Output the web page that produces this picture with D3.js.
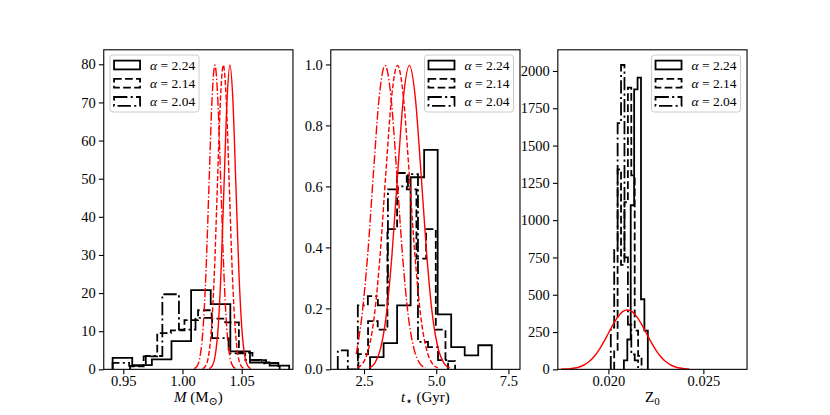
<!DOCTYPE html>
<html>
<head>
<meta charset="utf-8">
<script src="https://cdn.jsdelivr.net/npm/d3@7"></script>
<style>
  body { margin: 0; background: #fff; }
  text { font-family: "Liberation Serif", "DejaVu Serif", serif; }
</style>
</head>
<body>
<div id="chart"></div>
<script>
// ---- data ----
const alphaValues = ["2.24", "2.14", "2.04"];

// panel 1: mass
const massTicks = [0.95, 1.00, 1.05];
const massYTicks = [0, 10, 20, 30, 40, 50, 60, 70, 80];
const massBinStart = [0.9410, 0.9557, 0.9410];
const massBinWidth = [0.01657, 0.01149, 0.0140];
const massHist224 = [3.0, 1.1, 2.6, 7.4, 20.8, 17.1, 4.7, 1.8, 1.0];
const massHist214 = [0.8, 3.4, 9.5, 10.2, 12.9, 15.5, 13.3, 12.3, 4.3, 2.4, 1.7];
const massHist204 = [1.7, 0.9, 3.5, 19.7, 10.4, 13.5, 8.2, 4.2, 2.5, 1.6];
const massCurveX224 = [1.0226, 1.0251, 1.0276, 1.0301, 1.0326, 1.0351, 1.0376, 1.0401, 1.0426, 1.0451, 1.0476, 1.0501, 1.0526, 1.0551, 1.0576];
const massCurveX214 = [1.0170, 1.0195, 1.0220, 1.0245, 1.0270, 1.0295, 1.0320, 1.0345, 1.0370, 1.0395, 1.0420, 1.0445, 1.0470, 1.0495, 1.0520];
const massCurveX204 = [1.0099, 1.0124, 1.0149, 1.0174, 1.0199, 1.0224, 1.0249, 1.0274, 1.0299, 1.0324, 1.0349, 1.0374, 1.0399, 1.0424, 1.0449];
const massCurveY = [0.2, 0.9, 3.5, 10.8, 25.9, 48.4, 70.4, 79.8, 70.4, 48.4, 25.9, 10.8, 3.5, 0.9, 0.2];

// panel 2: age
const ageTicks = [2.5, 5.0, 7.5];
const ageYTicks = [0.0, 0.2, 0.4, 0.6, 0.8, 1.0];
const ageBinStart = [2.710, 2.305, 1.592];
const ageBinWidth = [0.468, 0.335, 0.347];
const ageHist224 = [0.04, 0.086, 0.21, 0.63, 0.72, 0.18, 0.073, 0.046, 0.079];
const ageHist214 = [0.05, 0.158, 0.13, 0.46, 0.644, 0.59, 0.363, 0.46, 0.13, 0.027];
const ageHist204 = [0.062, 0, 0.21, 0.24, 0.21, 0.59, 0.60, 0.64, 0.09, 0.073, 0.03];
const ageCurveX224 = [2.67, 2.87, 3.07, 3.27, 3.47, 3.67, 3.87, 4.07, 4.27, 4.47, 4.67, 4.87, 5.07, 5.27, 5.47];
const ageCurveY224 = [0.005, 0.020, 0.067, 0.177, 0.378, 0.649, 0.897, 0.997, 0.897, 0.649, 0.378, 0.177, 0.067, 0.020, 0.005];
const ageCurveX214 = [2.26, 2.46, 2.66, 2.86, 3.06, 3.26, 3.46, 3.66, 3.86, 4.06, 4.26, 4.46, 4.66, 4.86, 5.06];
const ageCurveY214 = [0.005, 0.020, 0.067, 0.177, 0.378, 0.649, 0.897, 0.997, 0.897, 0.649, 0.378, 0.177, 0.067, 0.020, 0.005];
const ageCurveX204 = [2.23, 2.43, 2.63, 2.83, 3.03, 3.23, 3.43, 3.63, 3.83, 4.03, 4.23, 4.43, 4.63];
const ageCurveY204 = [0.05, 0.177, 0.378, 0.649, 0.897, 0.997, 0.897, 0.649, 0.378, 0.177, 0.067, 0.020, 0.005];

// panel 3: initial metallicity
const zTicks = [0.020, 0.025];
const zYTicks = [0, 250, 500, 750, 1000, 1250, 1500, 1750, 2000];
const zBinStart = [0.020816, 0.020305, 0.020126];
const zBinWidth = [0.00018, 0.00018, 0.00018];
const zHist224 = [60, 200, 1100, 1877, 1955, 470, 260];
const zHist214 = [120, 1340, 700, 1120, 1888, 1300, 260, 90];
const zHist204 = [280, 800, 1650, 2040, 750, 300, 100, 60];
const zCurveX = [0.01750, 0.01775, 0.01800, 0.01825, 0.01850, 0.01875, 0.01900, 0.01925, 0.01950, 0.01975,
                 0.02000, 0.02025, 0.02050, 0.02075, 0.02100, 0.02125, 0.02150, 0.02175, 0.02200, 0.02225,
                 0.02250, 0.02275, 0.02300, 0.02325, 0.02350, 0.02375, 0.02400, 0.02425];
const zCurveY = [0.9, 2.0, 4.4, 9.1, 17.5, 31.7, 54.0, 86.3, 129.5, 182.6,
                 242.0, 301.2, 352.1, 386.6, 398.9, 386.6, 352.1, 301.2, 242.0, 182.6,
                 129.5, 86.3, 54.0, 31.7, 17.5, 9.1, 4.4, 2.0];

// ---- layout ----
const width = 830, height = 415;
const plotTop = 49.8, plotBottom = 369.35;
const panelW = 189.2, gap = 37.84, left0 = 103.75;
const serif = '"Liberation Serif", "DejaVu Serif", serif';

const blackDash = { solid: null, dashed: "7.7,3.3", dashdot: "13.3,3.3,2.1,3.3" };
const redDash = { solid: null, dashed: "5.1,2.2", dashdot: "8.9,2.2,1.4,2.2" };
const lineStyles = ["solid", "dashed", "dashdot"];

const zip = (xs, ys) => xs.map((x, i) => [x, ys[i]]);

const panels = [
  {
    xDomain: [0.9335, 1.0933], yDomain: [0, 83.8],
    xTicks: massTicks, yTicks: massYTicks,
    xFmt: d3.format(".2f"), yFmt: d3.format("d"),
    hists: [[massBinStart[0], massBinWidth[0], massHist224],
            [massBinStart[1], massBinWidth[1], massHist214],
            [massBinStart[2], massBinWidth[2], massHist204]],
    curves: [[zip(massCurveX224, massCurveY), "solid"],
             [zip(massCurveX214, massCurveY), "dashed"],
             [zip(massCurveX204, massCurveY), "dashdot"]],
    legend: "left", label: "mass"
  },
  {
    xDomain: [1.35, 7.9], yDomain: [0, 1.048],
    xTicks: ageTicks, yTicks: ageYTicks,
    xFmt: d3.format(".1f"), yFmt: d3.format(".1f"),
    hists: [[ageBinStart[0], ageBinWidth[0], ageHist224],
            [ageBinStart[1], ageBinWidth[1], ageHist214],
            [ageBinStart[2], ageBinWidth[2], ageHist204]],
    curves: [[zip(ageCurveX224, ageCurveY224), "solid"],
             [zip(ageCurveX214, ageCurveY214), "dashed"],
             [zip(ageCurveX204, ageCurveY204), "dashdot"]],
    legend: "right", label: "age"
  },
  {
    xDomain: [0.017337, 0.0273], yDomain: [0, 2142],
    xTicks: zTicks, yTicks: zYTicks,
    xFmt: d3.format(".3f"), yFmt: d3.format("d"),
    hists: [[zBinStart[0], zBinWidth[0], zHist224],
            [zBinStart[1], zBinWidth[1], zHist214],
            [zBinStart[2], zBinWidth[2], zHist204]],
    curves: [[zip(zCurveX, zCurveY), "solid"]],
    legend: "right", label: "z"
  }
];

const svg = d3.select("#chart").append("svg")
  .attr("width", width).attr("height", height)
  .style("background", "#fff");

const defs = svg.append("defs");

panels.forEach((p, k) => {
  const x0 = left0 + k * (panelW + gap), x1 = x0 + panelW;

  const x = d3.scaleLinear().domain(p.xDomain).range([x0, x1]);
  const y = d3.scaleLinear().domain(p.yDomain).range([plotBottom, plotTop]);

  defs.append("clipPath").attr("id", "clip" + k)
    .append("rect").attr("x", x0).attr("y", plotTop)
    .attr("width", panelW).attr("height", plotBottom - plotTop);

  const plot = svg.append("g").attr("clip-path", `url(#clip${k})`);

  // step histograms
  const step = d3.line().x(d => x(d[0])).y(d => y(d[1])).curve(d3.curveStepAfter);
  p.hists.forEach(([start, w, h], i) => {
    const pts = [[start, 0]];
    h.forEach((v, j) => pts.push([start + j * w, v]));
    pts.push([start + h.length * w, 0]);
    plot.append("path")
      .attr("d", step(pts))
      .attr("fill", "none")
      .attr("stroke", "black")
      .attr("stroke-width", 1.8)
      .attr("stroke-dasharray", blackDash[lineStyles[i]]);
  });

  // red curves
  const smooth = d3.line().x(d => x(d[0])).y(d => y(d[1])).curve(d3.curveMonotoneX);
  p.curves.forEach(([pts, style]) => {
    plot.append("path")
      .attr("d", smooth(pts))
      .attr("fill", "none")
      .attr("stroke", "red")
      .attr("stroke-width", 1.4)
      .attr("stroke-dasharray", redDash[style]);
  });

  // axes
  const xAxis = svg.append("g")
    .attr("transform", `translate(0,${plotBottom})`)
    .attr("font-family", serif)
    .call(d3.axisBottom(x).tickValues(p.xTicks).tickFormat(p.xFmt).tickSize(4.9));
  xAxis.attr("font-family", serif).attr("font-size", 14.5);
  xAxis.select(".domain").remove();
  xAxis.selectAll(".tick line").attr("stroke-width", 1.1);
  xAxis.selectAll(".tick text")
    .attr("y", 16.2).attr("dy", 0).attr("fill", "black");

  const yAxis = svg.append("g")
    .attr("transform", `translate(${x0},0)`)
    .call(d3.axisLeft(y).tickValues(p.yTicks).tickFormat(p.yFmt).tickSize(4.9));
  yAxis.attr("font-family", serif).attr("font-size", 14.5);
  yAxis.select(".domain").remove();
  yAxis.selectAll(".tick line").attr("stroke-width", 1.1);
  yAxis.selectAll(".tick text")
    .attr("x", -8).attr("dy", "0.32em").attr("fill", "black");

  // frame
  svg.append("rect")
    .attr("x", x0).attr("y", plotTop)
    .attr("width", panelW).attr("height", plotBottom - plotTop)
    .attr("fill", "none").attr("stroke", "black").attr("stroke-width", 1.1);

  // legend
  const lw = 89, lh = 57;
  const lx = p.legend === "left" ? x0 + 6.3 : x1 - 6.5 - lw;
  const ly = plotTop + 5.2;
  const leg = svg.append("g").attr("transform", `translate(${lx},${ly})`);
  leg.append("rect")
    .attr("width", lw).attr("height", lh).attr("rx", 3)
    .attr("fill", "white").attr("fill-opacity", 0.8)
    .attr("stroke", "#cccccc").attr("stroke-width", 1);
  alphaValues.forEach((a, i) => {
    const cy = 10 + i * 18.2;
    leg.append("rect")
      .attr("x", 4).attr("y", cy - 4.4)
      .attr("width", 26).attr("height", 8.8)
      .attr("fill", "none").attr("stroke", "black").attr("stroke-width", 1.8)
      .attr("stroke-dasharray", blackDash[lineStyles[i]]);
    const t = leg.append("text")
      .attr("x", 40).attr("y", cy).attr("dy", "0.35em")
      .style("font-size", "13.5px");
    t.append("tspan").style("font-style", "italic").text("α");
    t.append("tspan").text(" = " + a);
  });

  // x label
  const xl = svg.append("text")
    .attr("x", (x0 + x1) / 2).attr("y", 401.5)
    .attr("text-anchor", "middle")
    .style("font-size", "15px");
  if (p.label === "mass") {
    xl.append("tspan").style("font-style", "italic").text("M");
    xl.append("tspan").text(" (M");
    xl.append("tspan").attr("dy", 3).style("font-size", "11px").text("⊙");
    xl.append("tspan").attr("dy", -3).text(")");
  } else if (p.label === "age") {
    xl.append("tspan").style("font-style", "italic").text("t");
    xl.append("tspan").attr("dy", 3).style("font-size", "12px")
      .style("font-family", '"DejaVu Sans", sans-serif').text("⋆");
    xl.append("tspan").attr("dy", -3).text(" (Gyr)");
  } else {
    xl.append("tspan").text("Z");
    xl.append("tspan").attr("dy", 3).style("font-size", "11px").text("0");
  }
});
</script>
</body>
</html>
